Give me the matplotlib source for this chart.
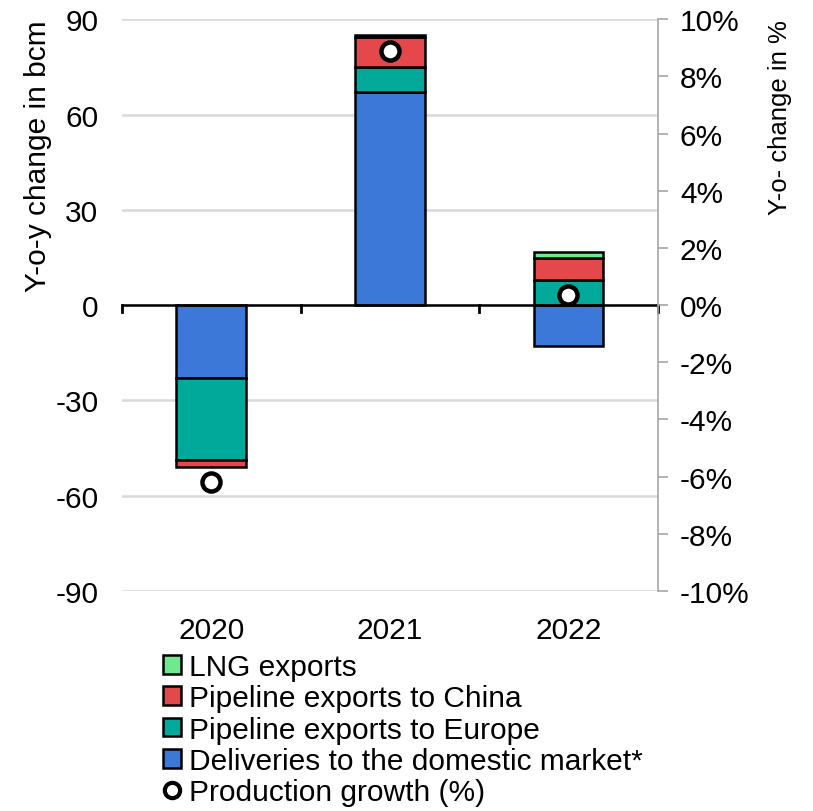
import matplotlib
matplotlib.use("Agg")
import matplotlib.pyplot as plt
import numpy as np
from matplotlib.patches import Patch
from matplotlib.lines import Line2D

plt.rcParams['font.family'] = ['Liberation Sans', 'DejaVu Sans']

years = ["2020", "2021", "2022"]
domestic = [-23.1, 67.0, -13.0]
europe = [-25.7, 8.0, 8.0]
china = [-2.2, 9.4, 6.8]
lng = [0.0, 0.8, 1.8]
production_growth = [-6.2, 8.9, 0.35]

labels = ["LNG exports", "Pipeline exports to China",
          "Pipeline exports to Europe", "Deliveries to the domestic market*",
          "Production growth (%)"]
colors = {"lng": "#6EE98D", "china": "#E5484A", "europe": "#00A99A", "domestic": "#3C78D8"}

FS = 21.5

fig = plt.figure(figsize=(8.13, 8.12), dpi=100)
ax = fig.add_axes([0.150, 0.271, 0.659, 0.704])
x = np.arange(len(years))
w = 0.39

def stack(series):
    pos_base = np.zeros(len(years))
    neg_base = np.zeros(len(years))
    out = []
    for vals in series:
        vals = np.array(vals, dtype=float)
        base = np.where(vals >= 0, pos_base, neg_base)
        out.append(base.copy())
        pos_base = pos_base + np.where(vals >= 0, vals, 0)
        neg_base = neg_base + np.where(vals < 0, vals, 0)
    return out

order = [("domestic", domestic), ("europe", europe), ("china", china), ("lng", lng)]
bases = stack([v for _, v in order])
for (name, vals), b in zip(order, bases):
    vals = np.array(vals)
    mask = vals != 0
    ax.bar(x[mask], vals[mask], w, bottom=b[mask], color=colors[name],
           edgecolor="black", linewidth=1.8, zorder=3)

ax.set_xlim(-0.5, 2.5)
ax.set_ylim(-90, 90)
ax.set_yticks(np.arange(-90, 91, 30))
ax.set_yticklabels([str(v) for v in range(-90, 91, 30)], fontsize=FS)
ax.yaxis.grid(True, color="#D9D9D9", linewidth=1.8, zorder=0)
ax.set_axisbelow(True)
ax.tick_params(axis="y", length=0, pad=17)
for s in ["left", "top", "bottom", "right"]:
    ax.spines[s].set_visible(False)
ax.axhline(0, color="black", linewidth=1.8, zorder=4)
for xb in [-0.5, 0.5, 1.5, 2.5]:
    ax.plot([xb, xb], [0, -2.2], color="black", linewidth=2.0, zorder=4, clip_on=False)
ax.set_xticks(x)
ax.set_xticklabels(years, fontsize=FS)
ax.tick_params(axis="x", length=0, pad=18)
ax.set_ylabel("Y-o-y change in bcm", fontsize=FS, loc="top")
ax.yaxis.set_label_coords(-0.131, 1.0)

ax2 = ax.twinx()
ax2.set_ylim(-10, 10)
ax2.set_yticks(np.arange(-10, 11, 2))
ax2.set_yticklabels([f"{v}%" for v in range(-10, 11, 2)], fontsize=FS)
for s in ["left", "top", "bottom"]:
    ax2.spines[s].set_visible(False)
ax2.spines["right"].set_color("#A6A6A6")
ax2.spines["right"].set_linewidth(1.2)
ax2.tick_params(axis="y", direction="out", length=7, color="#A6A6A6", width=1.2, pad=9)
ax2.set_ylabel("Y-o- change in %", fontsize=18.5, loc="top", rotation=90)
ax2.yaxis.set_label_coords(1.205, 1.0)
ax2.plot(x, production_growth, linestyle="none", marker="o", markersize=13,
         markerfacecolor="white", markeredgecolor="black", markeredgewidth=3.2, zorder=5)

handles = [
    Patch(facecolor=colors["lng"], edgecolor="black", linewidth=1.8),
    Patch(facecolor=colors["china"], edgecolor="black", linewidth=1.8),
    Patch(facecolor=colors["europe"], edgecolor="black", linewidth=1.8),
    Patch(facecolor=colors["domestic"], edgecolor="black", linewidth=1.8),
    Line2D([], [], linestyle="none", marker="o", markersize=11, markerfacecolor="white",
           markeredgecolor="black", markeredgewidth=3),
]
fig.legend(handles, labels, loc="upper left", bbox_to_anchor=(0.201, 0.195),
           frameon=False, fontsize=FS, handlelength=0.6, handleheight=0.6,
           handletextpad=0.25, labelspacing=0.115, borderpad=0, borderaxespad=0)

fig.savefig("out.png", dpi=100)
